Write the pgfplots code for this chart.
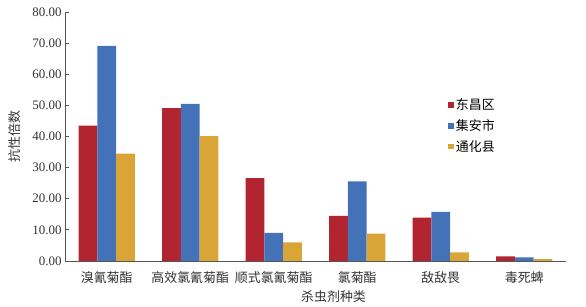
\documentclass[border=0pt]{standalone}
\usepackage{pgfplots}
\pgfplotsset{compat=1.18}
\usepackage{fontspec}
\setmainfont{Liberation Serif}
\newfontfamily\cjk{Noto Sans CJK SC}
\definecolor{cred}{HTML}{B22430}
\definecolor{cblue}{HTML}{4472B8}
\definecolor{cgold}{HTML}{DAA537}
\definecolor{axgray}{HTML}{555555}
\begin{document}
\begin{tikzpicture}
\useasboundingbox (0,0) rectangle (586bp,307bp);
\begin{axis}[
  at={(65bp,46bp)}, anchor=south west,
  scale only axis, width=501bp, height=249bp,
  ymin=0, ymax=80, xmin=-0.5, xmax=5.5,
  ytick={0,10,...,80},
  yticklabel style={/pgf/number format/.cd, fixed, fixed zerofill, precision=2},
  /pgf/number format/assume math mode=true,
  tick label style={font=\fontsize{13}{14}\selectfont, text=black!80},
  xtick={0,1,2,3,4,5},
  xticklabels={{\cjk 溴氰菊酯},{\cjk 高效氯氰菊酯},{\cjk 顺式氯氰菊酯},{\cjk 氯菊酯},{\cjk 敌敌畏},{\cjk 毒死蜱}},
  extra x ticks={5.5}, extra x tick labels={},
  extra x tick style={major tick length=5bp},
  x tick label style={yshift=-3bp},
  axis x line*=bottom, axis y line*=left,
  axis line style={axgray, line width=0.8pt},
  tick style={axgray, line width=0.8pt},
  major tick length=4bp,
  xtick style={draw=none},
  ylabel={\cjk 抗性倍数}, xlabel={\cjk 杀虫剂种类},
  label style={font=\fontsize{13}{14}\selectfont, text=black!80},
  ylabel style={at={(axis description cs:-0.1,0.5)}, anchor=center},
  xlabel style={at={(axis description cs:0.536,0)}, anchor=center, yshift=-36bp},
  ybar=0pt, bar width=18.7bp,
  legend style={draw=none, fill=none, at={(axis description cs:0.765,0.66)}, anchor=north west,
    font=\fontsize{13}{14}\selectfont, row sep=4.5bp, inner sep=0pt},
  legend cell align=left,
  legend image code/.code={\fill[#1] (0bp,-2.5bp) rectangle (5.5bp,3bp);},
]
\addplot[draw=none, fill=cred] coordinates {(0,43.5) (1,49.1) (2,26.6) (3,14.5) (4,13.9) (5,1.5)};
\addplot[draw=none, fill=cblue] coordinates {(0,69.1) (1,50.5) (2,9.0) (3,25.6) (4,15.8) (5,1.2)};
\addplot[draw=none, fill=cgold] coordinates {(0,34.5) (1,40.1) (2,6.0) (3,8.8) (4,2.8) (5,0.6)};
\legend{{\cjk 东昌区},{\cjk 集安市},{\cjk 通化县}}
\end{axis}
\end{tikzpicture}
\end{document}
